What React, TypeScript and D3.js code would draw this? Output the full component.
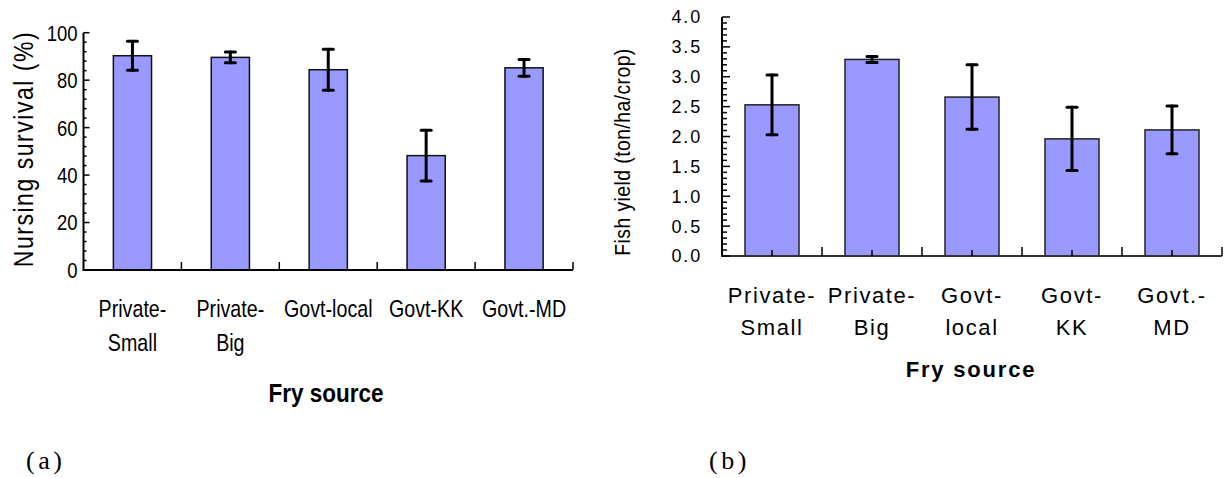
import React from "react";
import * as d3 from "d3";

// --- data ---
const fryKeys = ["Private-Small", "Private-Big", "Govt-local", "Govt-KK", "Govt.-MD"];
const survivalLabels = [["Private-", "Small"], ["Private-", "Big"], ["Govt-local"], ["Govt-KK"], ["Govt.-MD"]];
const yieldLabels = [["Private-", "Small"], ["Private-", "Big"], ["Govt-", "local"], ["Govt-", "KK"], ["Govt.-", "MD"]];
const survival = [90.3, 89.6, 84.4, 48.2, 85.2];
const survivalErr = [6.1, 2.3, 8.6, 10.7, 3.5];
const fishYield = [2.53, 3.29, 2.66, 1.96, 2.11];
const fishYieldErr = [0.5, 0.05, 0.54, 0.53, 0.4];
const survivalTicks = [0, 20, 40, 60, 80, 100];
const yieldTicks = [0, 0.5, 1, 1.5, 2, 2.5, 3, 3.5, 4];

const BAR = "#9999ff";
const SANS = "'Liberation Sans', Arial, sans-serif";
const SERIF = "'Liberation Serif', 'Times New Roman', serif";

// text squeezed horizontally (no narrow font installed)
function Squeezed({ x, y, sx = 0.82, rotate = 0, children, ...rest }: any) {
    return (
        <text transform={`translate(${x},${y}) rotate(${rotate}) scale(${sx},1)`} fill="#000" {...rest}>
            {children}
        </text>
    );
}

export default function App() {
    // --- panel (a) scales ---
    const xa = d3.scaleBand().domain(fryKeys).range([83.5, 573]).paddingInner(0.61).paddingOuter(0.305);
    const ya = d3.scaleLinear().domain([0, 100]).range([270, 32.7]);
    // --- panel (b) scales ---
    const xb = d3.scaleBand().domain(fryKeys).range([722, 1222]).paddingInner(0.46).paddingOuter(0.23);
    const yb = d3.scaleLinear().domain([0, 4]).range([256, 17]);

    const minorA = d3.range(0, 101, 4);
    const minorB = d3.range(0, 41).map(i => i / 10);

    return (
        <svg width={1224} height={478} style={{ position: "absolute", left: 0, top: 0, background: "#fff" }}>
            {/* ================= (a) ================= */}
            <g>
                {fryKeys.map((k, i) => (
                    <rect key={k} x={xa(k)} y={ya(survival[i])} width={xa.bandwidth()}
                        height={ya(0) - ya(survival[i])} fill={BAR} stroke="#111" strokeWidth={1.5} />
                ))}
                {fryKeys.map((k, i) => {
                    const cx = xa(k) + xa.bandwidth() / 2;
                    const hi = ya(survival[i] + survivalErr[i]);
                    const lo = ya(survival[i] - survivalErr[i]);
                    return (
                        <g key={k} stroke="#000" strokeWidth={3} strokeLinecap="round">
                            <line x1={cx} x2={cx} y1={hi} y2={lo} />
                            <line x1={cx - 5} x2={cx + 5} y1={hi} y2={hi} />
                            <line x1={cx - 5} x2={cx + 5} y1={lo} y2={lo} />
                        </g>
                    );
                })}
                {/* axes */}
                <line x1={83.5} x2={83.5} y1={ya(100)} y2={ya(0)} stroke="#000" strokeWidth={2} />
                <line x1={82.5} x2={573} y1={ya(0)} y2={ya(0)} stroke="#000" strokeWidth={2} />
                {minorA.map(t => (
                    <line key={t} x1={83.5} x2={83.5 + (t % 20 === 0 ? 6 : 3)} y1={ya(t)} y2={ya(t)}
                        stroke="#000" strokeWidth={1.5} />
                ))}
                {fryKeys.map(k => {
                    const x = xa(k) + xa.bandwidth() / 2 + xa.step() / 2;
                    return <line key={k} x1={x} x2={x} y1={ya(0)} y2={ya(0) - 8} stroke="#000" strokeWidth={1.5} />;
                })}
                {survivalTicks.map(t => (
                    <Squeezed key={t} x={77.5} y={ya(t)} sx={0.84} dy="0.36em" textAnchor="end" fontFamily={SANS}
                        fontSize={22}>{t}</Squeezed>
                ))}
                {fryKeys.map((k, i) => (
                    <Squeezed key={k} x={xa(k) + xa.bandwidth() / 2} y={316.5} sx={0.82} textAnchor="middle"
                        fontFamily={SANS} fontSize={24}>
                        {survivalLabels[i].map((s, j) => (
                            <tspan key={j} x={0} y={j * 35}>{s}</tspan>
                        ))}
                    </Squeezed>
                ))}
                <Squeezed x={33} y={149} rotate={-90} sx={0.82} textAnchor="middle" fontFamily={SANS}
                    fontSize={28} letterSpacing={1.9}>Nursing survival (%)</Squeezed>
                <Squeezed x={326} y={402} sx={0.9} textAnchor="middle" fontFamily={SANS} fontWeight="bold"
                    fontSize={25}>Fry source</Squeezed>
                <text x={26} y={469} fontFamily={SERIF} fontSize={26} letterSpacing={3.5} fill="#000">(a)</text>
            </g>

            {/* ================= (b) ================= */}
            <g>
                {fryKeys.map((k, i) => (
                    <rect key={k} x={xb(k)} y={yb(fishYield[i])} width={xb.bandwidth()}
                        height={yb(0) - yb(fishYield[i])} fill={BAR} stroke="#222" strokeWidth={1.5} />
                ))}
                {fryKeys.map((k, i) => {
                    const cx = xb(k) + xb.bandwidth() / 2;
                    const hi = yb(fishYield[i] + fishYieldErr[i]);
                    const lo = yb(fishYield[i] - fishYieldErr[i]);
                    return (
                        <g key={k} stroke="#000" strokeWidth={3} strokeLinecap="round">
                            <line x1={cx} x2={cx} y1={hi} y2={lo} />
                            <line x1={cx - 5} x2={cx + 5} y1={hi} y2={hi} />
                            <line x1={cx - 5} x2={cx + 5} y1={lo} y2={lo} />
                        </g>
                    );
                })}
                <line x1={722} x2={722} y1={yb(4)} y2={yb(0)} stroke="#000" strokeWidth={2} />
                <line x1={721} x2={1222} y1={yb(0)} y2={yb(0)} stroke="#333" strokeWidth={2} />
                {minorB.map(t => (
                    <line key={t} x1={722} x2={722 + (Math.round(t * 10) % 5 === 0 ? 8 : 5)} y1={yb(t)} y2={yb(t)}
                        stroke="#000" strokeWidth={1.5} />
                ))}
                {fryKeys.map(k => {
                    const c = xb(k) + xb.bandwidth() / 2;
                    const b = c + xb.step() / 2;
                    return (
                        <g key={k} stroke="#000" strokeWidth={1.5}>
                            <line x1={c} x2={c} y1={yb(0)} y2={yb(0) - 6} />
                            <line x1={b} x2={b} y1={yb(0)} y2={yb(0) - 9} />
                        </g>
                    );
                })}
                {yieldTicks.map(t => (
                    <text key={t} x={702} y={yb(t)} dy="0.36em" textAnchor="end" fontFamily={SANS}
                        fontSize={18} letterSpacing={1.8} fill="#000">{t.toFixed(1)}</text>
                ))}
                {fryKeys.map((k, i) => (
                    <text key={k} textAnchor="middle" fontFamily={SANS} fontSize={22} letterSpacing={1.6} fill="#000">
                        {yieldLabels[i].map((s, j) => (
                            <tspan key={j} x={xb(k) + xb.bandwidth() / 2} y={303 + j * 32}>{s}</tspan>
                        ))}
                    </text>
                ))}
                <Squeezed x={630} y={152} rotate={-90} sx={0.88} textAnchor="middle" fontFamily={SANS}
                    fontSize={22} letterSpacing={0.5}>Fish yield (ton/ha/crop)</Squeezed>
                <text x={971} y={377} textAnchor="middle" fontFamily={SANS} fontWeight="bold"
                    fontSize={22} letterSpacing={1.8} fill="#000">Fry source</text>
                <text x={709} y={469} fontFamily={SERIF} fontSize={26} letterSpacing={3.5} fill="#000">(b)</text>
            </g>
        </svg>
    );
}
